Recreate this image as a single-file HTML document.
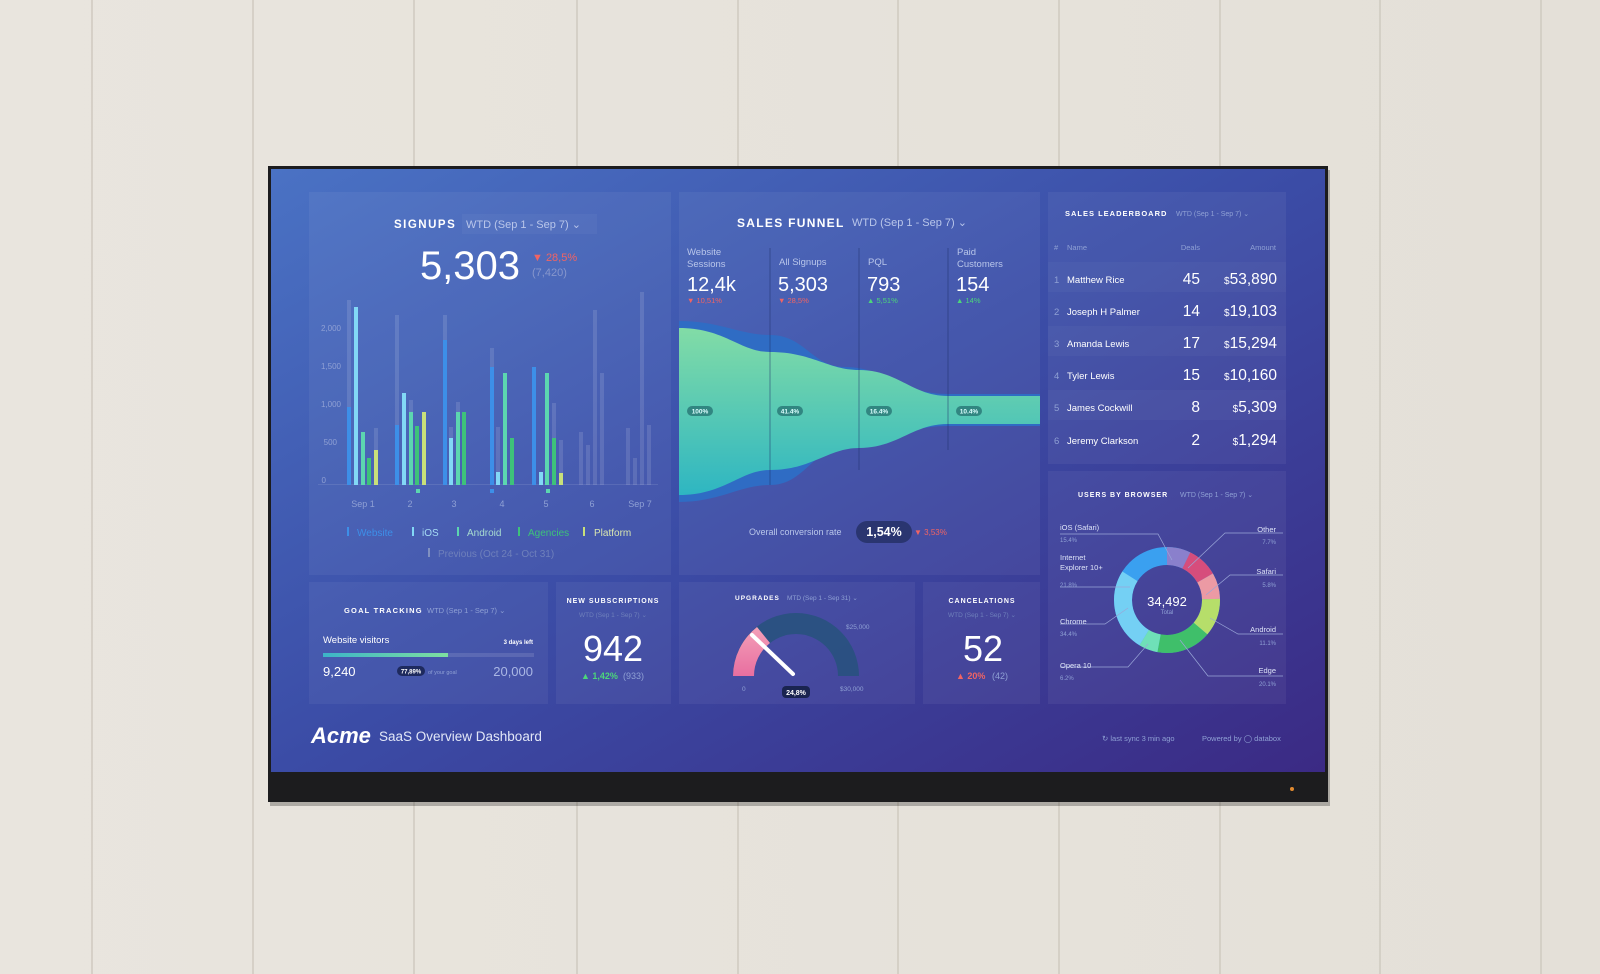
<!DOCTYPE html>
<html><head><meta charset="utf-8"><style>
html,body{margin:0;padding:0;width:1600px;height:974px;overflow:hidden;background:#e6e2da}
svg{display:block}
text{font-family:"Liberation Sans",sans-serif}
</style></head><body>
<svg width="1600" height="974" viewBox="0 0 1600 974" xmlns="http://www.w3.org/2000/svg">
<defs>
<linearGradient id="wood" x1="0" y1="0" x2="1" y2="0">
<stop offset="0" stop-color="#e9e5de"/><stop offset="1" stop-color="#e4e0d8"/></linearGradient>
<linearGradient id="scr" x1="0" y1="0" x2="1" y2="1">
<stop offset="0" stop-color="#4a72c4"/><stop offset="0.5" stop-color="#3b4ca6"/><stop offset="1" stop-color="#3b2a84"/></linearGradient>
<linearGradient id="teal" x1="0" y1="0" x2="0" y2="1">
<stop offset="0" stop-color="#82dca6"/><stop offset="1" stop-color="#2eb6c2"/></linearGradient>
<linearGradient id="goalbar" x1="0" y1="0" x2="1" y2="0">
<stop offset="0" stop-color="#3cb4c8"/><stop offset="1" stop-color="#7ee0a0"/></linearGradient>
<linearGradient id="pink" x1="0" y1="1" x2="0" y2="0">
<stop offset="0" stop-color="#e86fa0"/><stop offset="1" stop-color="#f3a0b8"/></linearGradient>
</defs>
<rect width="1600" height="974" fill="url(#wood)"/>
<g stroke="#cfcac0" stroke-width="1.5">
<line x1="92" y1="0" x2="92" y2="974"/><line x1="253" y1="0" x2="253" y2="974"/>
<line x1="414" y1="0" x2="414" y2="974"/><line x1="577" y1="0" x2="577" y2="974"/>
<line x1="738" y1="0" x2="738" y2="974"/><line x1="898" y1="0" x2="898" y2="974"/>
<line x1="1059" y1="0" x2="1059" y2="974"/><line x1="1220" y1="0" x2="1220" y2="974"/>
<line x1="1380" y1="0" x2="1380" y2="974"/><line x1="1541" y1="0" x2="1541" y2="974"/>
</g>
<!-- TV -->
<rect x="270" y="170" width="1060" height="636" fill="#000" opacity="0.25"/>
<rect x="268" y="166" width="1060" height="636" fill="#1c1c1e"/>
<rect x="271" y="169" width="1054" height="603" fill="url(#scr)"/>
<circle cx="1292" cy="789" r="2" fill="#e08a30"/>

<!-- panels -->
<g fill="#ffffff" fill-opacity="0.05">
<rect x="309" y="192" width="362" height="383"/>
<rect x="679" y="192" width="361" height="383"/>
<rect x="1048" y="192" width="238" height="272"/>
<rect x="1048" y="471" width="238" height="233"/>
<rect x="309" y="582" width="239" height="122"/>
<rect x="556" y="582" width="115" height="122"/>
<rect x="679" y="582" width="236" height="122"/>
<rect x="923" y="582" width="117" height="122"/>
</g>

<!-- SIGNUPS -->
<text x="394" y="228" font-size="11.5" font-weight="bold" fill="#fff" letter-spacing="1.5">SIGNUPS</text>
<rect x="462" y="214" width="135" height="20" fill="#fff" fill-opacity="0.04"/>
<text x="466" y="228" font-size="11" fill="#b9c6ea">WTD (Sep 1 - Sep 7)  ⌄</text>
<text x="470" y="279" font-size="40" fill="#fff" text-anchor="middle">5,303</text>
<text x="532" y="261" font-size="11" fill="#f06464">▼ 28,5%</text>
<text x="532" y="276" font-size="11" fill="#8797cc">(7,420)</text>
<g font-size="8" fill="#8fa0d4" text-anchor="end">
<text x="341" y="331">2,000</text><text x="341" y="369">1,500</text><text x="341" y="407">1,000</text><text x="337" y="445">500</text><text x="326" y="483">0</text>
</g>
<g fill="#fff" fill-opacity="0.12">
<rect x="347" y="300" width="4" height="185"/><rect x="374" y="428" width="4" height="57"/>
<rect x="395" y="315" width="4" height="170"/><rect x="409" y="400" width="4" height="85"/>
<rect x="443" y="315" width="4" height="170"/><rect x="449" y="427" width="4" height="58"/><rect x="456" y="402" width="4" height="83"/>
<rect x="490" y="348" width="4" height="137"/><rect x="496" y="427" width="4" height="58"/>
<rect x="552" y="403" width="4" height="82"/><rect x="559" y="440" width="4" height="45"/>
<rect x="579" y="432" width="4" height="53"/><rect x="586" y="445" width="4" height="40"/><rect x="593" y="310" width="4" height="175"/><rect x="600" y="373" width="4" height="112"/>
<rect x="626" y="428" width="4" height="57"/><rect x="633" y="458" width="4" height="27"/><rect x="640" y="292" width="4" height="193"/><rect x="647" y="425" width="4" height="60"/>
</g>
<rect x="318" y="484" width="340" height="1" fill="#fff" fill-opacity="0.1"/>
<g>
<rect x="347" y="407" width="4" height="78" fill="#3d8fe8"/><rect x="354" y="307" width="4" height="178" fill="#82d8f6"/><rect x="361" y="432" width="4" height="53" fill="#5cd6b0"/><rect x="367" y="458" width="4" height="27" fill="#3ec27a"/><rect x="374" y="450" width="4" height="35" fill="#c8e07a"/>
<rect x="395" y="425" width="4" height="60" fill="#3d8fe8"/><rect x="402" y="393" width="4" height="92" fill="#82d8f6"/><rect x="409" y="412" width="4" height="73" fill="#5cd6b0"/><rect x="415" y="426" width="4" height="59" fill="#3ec27a"/><rect x="422" y="412" width="4" height="73" fill="#c8e07a"/>
<rect x="443" y="340" width="4" height="145" fill="#3d8fe8"/><rect x="449" y="438" width="4" height="47" fill="#82d8f6"/><rect x="456" y="412" width="4" height="73" fill="#5cd6b0"/><rect x="462" y="412" width="4" height="73" fill="#3ec27a"/>
<rect x="490" y="367" width="4" height="118" fill="#3d8fe8"/><rect x="496" y="472" width="4" height="13" fill="#82d8f6"/><rect x="503" y="373" width="4" height="112" fill="#5cd6b0"/><rect x="510" y="438" width="4" height="47" fill="#3ec27a"/>
<rect x="532" y="367" width="4" height="118" fill="#3d8fe8"/><rect x="539" y="472" width="4" height="13" fill="#82d8f6"/><rect x="545" y="373" width="4" height="112" fill="#5cd6b0"/><rect x="552" y="438" width="4" height="47" fill="#3ec27a"/><rect x="559" y="473" width="4" height="12" fill="#c8e07a"/>
</g>
<g fill="#5cd6b0"><rect x="416" y="489" width="4" height="4"/><rect x="490" y="489" width="4" height="4" fill="#3d8fe8"/><rect x="546" y="489" width="4" height="4"/></g>
<g font-size="9" fill="#8fa0d4" text-anchor="middle">
<text x="363" y="507">Sep 1</text><text x="410" y="507">2</text><text x="454" y="507">3</text><text x="502" y="507">4</text><text x="546" y="507">5</text><text x="592" y="507">6</text><text x="640" y="507">Sep 7</text>
</g>
<g font-size="10">
<rect x="347" y="527" width="2" height="9" fill="#3d8fe8"/><text x="357" y="536" fill="#3d8fe8">Website</text>
<rect x="412" y="527" width="2" height="9" fill="#82d8f6"/><text x="422" y="536" fill="#a6dcf5">iOS</text>
<rect x="457" y="527" width="2" height="9" fill="#5cd6b0"/><text x="467" y="536" fill="#a8dcd0">Android</text>
<rect x="518" y="527" width="2" height="9" fill="#3ec27a"/><text x="528" y="536" fill="#3ec27a">Agencies</text>
<rect x="583" y="527" width="2" height="9" fill="#c8e07a"/><text x="594" y="536" fill="#d9e6b0">Platform</text>
<rect x="428" y="548" width="2" height="9" fill="#8090c0"/><text x="438" y="557" fill="#6f80bb">Previous (Oct 24 - Oct 31)</text>
</g>

<!-- SALES FUNNEL -->
<text x="737" y="227" font-size="12" font-weight="bold" fill="#fff" letter-spacing="1.3">SALES FUNNEL</text>
<text x="852" y="226" font-size="11" fill="#b9c6ea">WTD (Sep 1 - Sep 7)  ⌄</text>
<g font-size="9.5" fill="#b9c6ea">
<text x="687" y="255">Website</text><text x="687" y="267">Sessions</text>
<text x="779" y="265">All Signups</text><text x="868" y="265">PQL</text>
<text x="957" y="255">Paid</text><text x="957" y="267">Customers</text>
</g>
<g font-size="20" fill="#fff">
<text x="687" y="291">12,4k</text><text x="778" y="291">5,303</text><text x="867" y="291">793</text><text x="956" y="291">154</text>
</g>
<g font-size="7.5">
<text x="687" y="303" fill="#f06464">▼ 10,51%</text><text x="778" y="303" fill="#f06464">▼ 28,5%</text>
<text x="867" y="303" fill="#4cd67a">▲ 5,51%</text><text x="956" y="303" fill="#4cd67a">▲ 14%</text>
</g>
<path d="M679,321 C720,321 740,335 770,335 C805,335 812,367 845,367 C885,367 900,394 948,394 L1040,394 L1040,426 L948,426 C900,426 885,448 845,448 C812,448 805,485 770,485 C740,485 720,502 679,502 Z" fill="#2f6cc4"/>
<path d="M679,328 C725,328 740,352 770,352 C812,352 828,370 859,370 C898,370 912,396 948,396 L1040,396 L1040,424 L948,424 C912,424 898,448 859,448 C828,448 812,470 770,470 C740,470 725,495 679,495 Z" fill="url(#teal)"/>
<g stroke="#1e2f6a" stroke-opacity="0.5" stroke-width="1">
<line x1="770" y1="248" x2="770" y2="485"/><line x1="859" y1="248" x2="859" y2="470"/><line x1="948" y1="248" x2="948" y2="450"/>
</g>
<g fill="#2a7a78" fill-opacity="0.85">
<rect x="687" y="406" width="26" height="10" rx="5"/><rect x="777" y="406" width="26" height="10" rx="5"/><rect x="866" y="406" width="26" height="10" rx="5"/><rect x="956" y="406" width="26" height="10" rx="5"/>
</g>
<g font-size="6.5" font-weight="bold" fill="#dff" text-anchor="middle">
<text x="700" y="413.5">100%</text><text x="790" y="413.5">41.4%</text><text x="879" y="413.5">16.4%</text><text x="969" y="413.5">10.4%</text>
</g>
<text x="749" y="535" font-size="9" fill="#b9c6ea">Overall conversion rate</text>
<rect x="856" y="521" width="56" height="22" rx="11" fill="#2a3570"/>
<text x="884" y="536" font-size="12.5" font-weight="bold" fill="#fff" text-anchor="middle">1,54%</text>
<text x="914" y="535" font-size="8" fill="#f06464">▼ 3,53%</text>

<!-- LEADERBOARD -->
<text x="1065" y="216" font-size="7.5" font-weight="bold" fill="#fff" letter-spacing="1">SALES LEADERBOARD</text>
<text x="1176" y="216" font-size="7" fill="#8fa0d4">WTD (Sep 1 - Sep 7)  ⌄</text>
<g font-size="7.5" fill="#8fa0d4">
<text x="1054" y="250">#</text><text x="1067" y="250">Name</text>
<text x="1200" y="250" text-anchor="end">Deals</text><text x="1276" y="250" text-anchor="end">Amount</text>
</g>
<g fill="#fff" fill-opacity="0.03">
<rect x="1048" y="262" width="238" height="30"/><rect x="1048" y="326" width="238" height="30"/><rect x="1048" y="390" width="238" height="30"/>
</g>
<g font-size="9.5" fill="#fff">
<text x="1054" y="283" fill="#8fa0d4">1</text><text x="1067" y="283">Matthew Rice</text>
<text x="1054" y="315" fill="#8fa0d4">2</text><text x="1067" y="315">Joseph H Palmer</text>
<text x="1054" y="347" fill="#8fa0d4">3</text><text x="1067" y="347">Amanda Lewis</text>
<text x="1054" y="379" fill="#8fa0d4">4</text><text x="1067" y="379">Tyler Lewis</text>
<text x="1054" y="411" fill="#8fa0d4">5</text><text x="1067" y="411">James Cockwill</text>
<text x="1054" y="444" fill="#8fa0d4">6</text><text x="1067" y="444">Jeremy Clarkson</text>
</g>
<g font-size="15.5" fill="#fff" text-anchor="end">
<text x="1200" y="284">45</text><text x="1277" y="284"><tspan font-size="10">$</tspan>53,890</text>
<text x="1200" y="316">14</text><text x="1277" y="316"><tspan font-size="10">$</tspan>19,103</text>
<text x="1200" y="348">17</text><text x="1277" y="348"><tspan font-size="10">$</tspan>15,294</text>
<text x="1200" y="380">15</text><text x="1277" y="380"><tspan font-size="10">$</tspan>10,160</text>
<text x="1200" y="412">8</text><text x="1277" y="412"><tspan font-size="10">$</tspan>5,309</text>
<text x="1200" y="445">2</text><text x="1277" y="445"><tspan font-size="10">$</tspan>1,294</text>
</g>

<!-- USERS BY BROWSER -->
<text x="1078" y="497" font-size="7" font-weight="bold" fill="#fff" letter-spacing="1">USERS BY BROWSER</text>
<text x="1180" y="497" font-size="7" fill="#8fa0d4">WTD (Sep 1 - Sep 7)  ⌄</text>
<g fill="none" stroke-width="18">
<circle cx="1167" cy="600" r="44" stroke="#3aa0f0"/>
</g>
<g fill="none" stroke-width="18" transform="rotate(-90 1167 600)">
<circle cx="1167" cy="600" r="44" stroke="#8a80cc" stroke-dasharray="25 277" stroke-dashoffset="5"/>
<circle cx="1167" cy="600" r="44" stroke="#d64d7c" stroke-dasharray="26 277" stroke-dashoffset="-20"/>
<circle cx="1167" cy="600" r="44" stroke="#ec9aa4" stroke-dasharray="22 277" stroke-dashoffset="-46"/>
<circle cx="1167" cy="600" r="44" stroke="#b6de6a" stroke-dasharray="32 277" stroke-dashoffset="-68"/>
<circle cx="1167" cy="600" r="44" stroke="#3fbf6a" stroke-dasharray="46 277" stroke-dashoffset="-100"/>
<circle cx="1167" cy="600" r="44" stroke="#6fe0b8" stroke-dasharray="16 277" stroke-dashoffset="-146"/>
<circle cx="1167" cy="600" r="44" stroke="#74d0f4" stroke-dasharray="70 277" stroke-dashoffset="-162"/>
</g>
<text x="1167" y="606" font-size="13" fill="#fff" text-anchor="middle">34,492</text>
<text x="1167" y="614" font-size="6" fill="#8fa0d4" text-anchor="middle">Total</text>
<g stroke="#9aa6d8" stroke-width="0.7" fill="none">
<polyline points="1060,534 1158,534 1172,560"/>
<polyline points="1060,587 1130,587"/>
<polyline points="1060,624 1105,624 1128,608"/>
<polyline points="1060,667 1128,667 1148,644"/>
<polyline points="1283,533 1225,533 1188,568"/>
<polyline points="1283,575 1230,575 1206,595"/>
<polyline points="1283,634 1238,634 1210,618"/>
<polyline points="1283,676 1208,676 1180,640"/>
</g>
<g font-size="7.5" fill="#dde3f7">
<text x="1060" y="530">iOS (Safari)</text><text x="1060" y="560">Internet</text><text x="1060" y="570">Explorer 10+</text>
<text x="1060" y="624">Chrome</text><text x="1060" y="668">Opera 10</text>
</g>
<g font-size="6" fill="#8fa0d4">
<text x="1060" y="542">15.4%</text><text x="1060" y="587">21.8%</text><text x="1060" y="636">34.4%</text><text x="1060" y="680">6.2%</text>
</g>
<g font-size="7.5" fill="#dde3f7" text-anchor="end">
<text x="1276" y="532">Other</text><text x="1276" y="574">Safari</text><text x="1276" y="632">Android</text><text x="1276" y="673">Edge</text>
</g>
<g font-size="6" fill="#8fa0d4" text-anchor="end">
<text x="1276" y="544">7.7%</text><text x="1276" y="587">5.8%</text><text x="1276" y="645">11.1%</text><text x="1276" y="686">20.1%</text>
</g>

<!-- GOAL TRACKING -->
<text x="344" y="613" font-size="7.5" font-weight="bold" fill="#fff" letter-spacing="1.2">GOAL TRACKING</text>
<text x="427" y="613" font-size="7.5" fill="#8fa0d4">WTD (Sep 1 - Sep 7)  ⌄</text>
<text x="323" y="643" font-size="9.5" fill="#fff">Website visitors</text>
<text x="533" y="644" font-size="6" font-weight="bold" fill="#fff" text-anchor="end">3 days left</text>
<rect x="323" y="653" width="211" height="4" fill="#fff" fill-opacity="0.12"/>
<rect x="323" y="653" width="125" height="4" fill="url(#goalbar)"/>
<text x="323" y="676" font-size="13" fill="#fff">9,240</text>
<rect x="397" y="666" width="28" height="10" rx="5" fill="#1e2a5e"/>
<text x="411" y="673.5" font-size="6" font-weight="bold" fill="#fff" text-anchor="middle">77,89%</text>
<text x="428" y="674" font-size="5.5" fill="#8fa0d4">of your goal</text>
<text x="533" y="676" font-size="13" fill="#aab7e4" text-anchor="end">20,000</text>

<!-- NEW SUBSCRIPTIONS -->
<text x="613" y="603" font-size="7" font-weight="bold" fill="#fff" letter-spacing="1" text-anchor="middle">NEW SUBSCRIPTIONS</text>
<text x="613" y="617" font-size="6.5" fill="#6f80bb" text-anchor="middle">WTD (Sep 1 - Sep 7)  ⌄</text>
<text x="613" y="661" font-size="36" fill="#fff" text-anchor="middle">942</text>
<text x="581" y="679" font-size="9" font-weight="bold" fill="#4cd67a">▲ 1,42%</text>
<text x="623" y="679" font-size="9" fill="#8fa0d4">(933)</text>

<!-- UPGRADES -->
<text x="735" y="600" font-size="6.5" font-weight="bold" fill="#fff" letter-spacing="1">UPGRADES</text>
<text x="787" y="600" font-size="6.5" fill="#8fa0d4">MTD (Sep 1 - Sep 31)  ⌄</text>
<path d="M733,676 A63,63 0 0 1 859,676 L838,676 A42,42 0 0 0 754,676 Z" fill="#24527a" fill-opacity="0.8"/>
<path d="M733,676 A63,63 0 0 1 757,627 L770,643 A42,42 0 0 0 754,676 Z" fill="url(#pink)"/>
<line x1="752" y1="635" x2="793" y2="674" stroke="#fff" stroke-width="4" stroke-linecap="round"/>
<rect x="782" y="686" width="28" height="12" rx="4" fill="#1a2450"/>
<text x="796" y="695" font-size="7" font-weight="bold" fill="#fff" text-anchor="middle">24,8%</text>
<text x="742" y="691" font-size="6.5" fill="#8fa0d4">0</text>
<text x="840" y="691" font-size="6.5" fill="#8fa0d4">$30,000</text>
<text x="846" y="629" font-size="6.5" fill="#8fa0d4">$25,000</text>

<!-- CANCELATIONS -->
<text x="982" y="603" font-size="7" font-weight="bold" fill="#fff" letter-spacing="1" text-anchor="middle">CANCELATIONS</text>
<text x="982" y="617" font-size="6.5" fill="#6f80bb" text-anchor="middle">WTD (Sep 1 - Sep 7)  ⌄</text>
<text x="983" y="661" font-size="36" fill="#fff" text-anchor="middle">52</text>
<text x="956" y="679" font-size="9" font-weight="bold" fill="#f06464">▲ 20%</text>
<text x="992" y="679" font-size="9" fill="#8fa0d4">(42)</text>

<!-- FOOTER -->
<text x="311" y="743" font-size="22" font-style="italic" font-weight="bold" fill="#fff" font-family="Liberation Serif, serif">Acme</text>
<text x="379" y="741" font-size="13.5" fill="#e2e7f7">SaaS Overview Dashboard</text>
<text x="1102" y="741" font-size="7.5" fill="#8fa0d4">↻ last sync 3 min ago</text>
<text x="1202" y="741" font-size="7.5" fill="#8fa0d4">Powered by ◯ databox</text>
</svg>
</body></html>
